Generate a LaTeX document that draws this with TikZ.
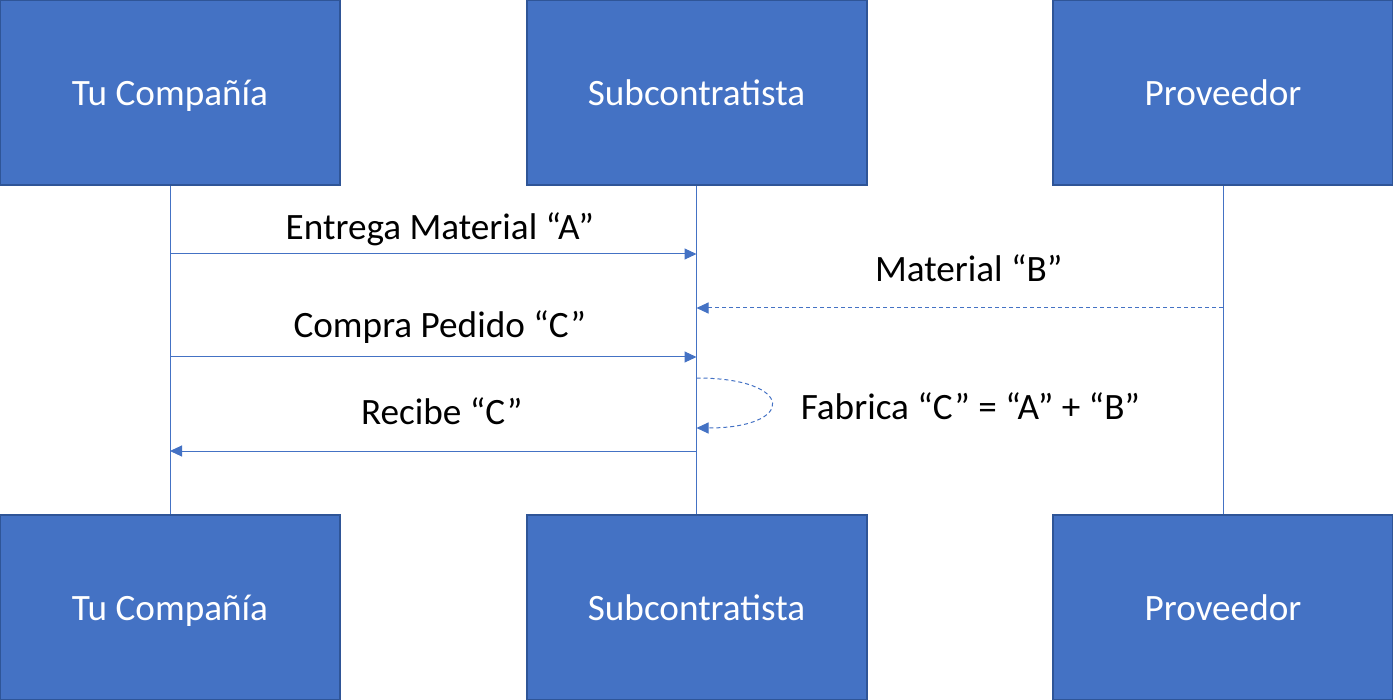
\documentclass[tikz,border=0pt]{standalone}
\usepackage{fontspec}
\setmainfont{Carlito}
\usetikzlibrary{arrows.meta}

\definecolor{boxblue}{HTML}{4472C4}
\definecolor{boxedge}{HTML}{2F5597}

\begin{document}
\begin{tikzpicture}[
        x=0.5pt, y=-0.5pt,
        actor/.style={draw=boxedge,line width=1pt,fill=boxblue,text=white,
            minimum width=170pt,minimum height=92.5pt,inner sep=0pt,
            text height=15.5pt,text depth=2.5pt,font=\fontsize{18.6}{22}\selectfont},
        life/.style={boxblue,line width=0.5pt},
        msg/.style={boxblue,line width=0.5pt,-{Triangle[length=6pt,width=5.5pt]}},
        reply/.style={msg,dash pattern=on 2pt off 1.5pt},
        lbl/.style={text=black,font=\fontsize{18.6}{22}\selectfont,inner sep=0pt,anchor=base}
    ]
        \useasboundingbox (0,0) rectangle (1393,700);

        % participants
        \node [actor] (compA) at (170,92.5)  {Tu Compañía};
        \node [actor] (subA)  at (696.5,92.5) {Subcontratista};
        \node [actor] (provA) at (1223,92.5) {Proveedor};
        \node [actor] (compB) at (170,607.5)  {Tu Compañía};
        \node [actor] (subB)  at (696.5,607.5) {Subcontratista};
        \node [actor] (provB) at (1223,607.5) {Proveedor};

        % lifelines
        \draw [life] (compA) -- (compB);
        \draw [life] (subA) -- (subB);
        \draw [life] (provA) -- (provB);

        % messages
        \draw [msg] (compA |- 0,254) -- node[lbl,yshift=7pt,xshift=3.25pt]{Entrega Material “A”} (subA |- 0,254);
        \draw [reply] (provA |- 0,308) -- node[lbl,yshift=13pt,xshift=4.5pt]{Material “B”} (subA |- 0,308);
        \draw [msg] (compA |- 0,357) -- node[lbl,yshift=9.5pt,xshift=3.25pt]{Compra Pedido “C”} (subA |- 0,357);
        \draw [reply] (subA |- 0,378) .. controls (796,378) and (796,428) .. (subA |- 0,428);
        \node [lbl] (fab) at (970.5,419) {Fabrica “C” = “A” + “B”};
        \draw [msg] (subA |- 0,451) -- node[lbl,yshift=13.5pt,xshift=4.25pt]{Recibe “C”} (compA |- 0,451);
    \end{tikzpicture}
\end{document}
